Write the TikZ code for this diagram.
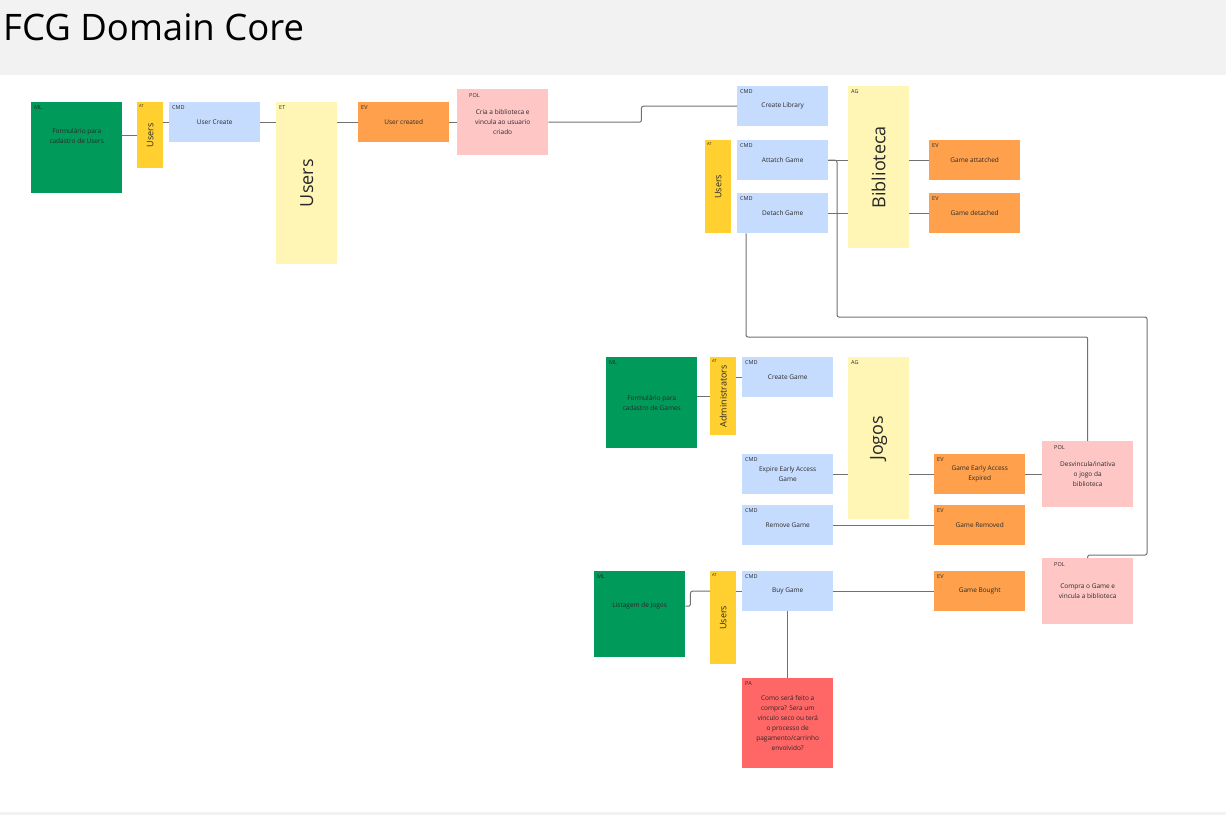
\documentclass[tikz,border=0pt]{standalone}
\usepackage{fontspec}
\setmainfont{Open Sans}
\usepackage{graphicx}
\definecolor{headgray}{RGB}{242,242,242}
\definecolor{ink}{RGB}{40,40,40}
\definecolor{linegray}{RGB}{112,112,112}
\definecolor{mlgreen}{RGB}{0,155,90}
\definecolor{atyellow}{RGB}{255,208,47}
\definecolor{cmdblue}{RGB}{198,220,255}
\definecolor{paleyellow}{RGB}{255,246,182}
\definecolor{evorange}{RGB}{255,161,76}
\definecolor{polpink}{RGB}{255,198,198}
\definecolor{pared}{RGB}{255,102,102}
\begin{document}
\begin{tikzpicture}[x=1pt, y=-1pt,
    sticky/.style={anchor=north west, inner sep=2pt, align=center, text=ink, font=\fontsize{6.5}{10}\selectfont},
    tag/.style={anchor=north west, inner sep=3pt, text=ink, font=\fontsize{5.5}{6}\selectfont},
    cmd/.style={sticky, fill=cmdblue, minimum width=91pt, minimum height=40pt, label={[tag]north west:CMD}},
    ev/.style={sticky, fill=evorange, minimum width=91pt, minimum height=40pt, label={[tag]north west:EV}},
    pol/.style={sticky, fill=polpink, minimum width=91pt, minimum height=66pt, label={[tag, inner sep=4pt, xshift=8pt]north west:POL}},
    ml/.style={sticky, fill=mlgreen, minimum width=91pt, label={[tag]north west:ML}},
    pa/.style={sticky, fill=pared, minimum width=91pt, minimum height=90pt, label={[tag]north west:PA}},
    actor/.style={sticky, fill=atyellow, minimum width=26pt, font=\fontsize{9}{10}\selectfont, label={[tag, inner sep=2pt, font=\fontsize{4}{5}\selectfont]north west:AT}},
    et/.style={sticky, fill=paleyellow, minimum width=61pt, minimum height=162pt, font=\fontsize{18}{20}\selectfont, label={[tag]north west:ET}},
    ag/.style={sticky, fill=paleyellow, minimum width=61pt, minimum height=162pt, font=\fontsize{18}{20}\selectfont, label={[tag]north west:AG}},
    link/.style={draw=linegray, line width=1pt}]
    \useasboundingbox (0,0) rectangle (1226,815);
    % 标题
    \fill[headgray] (0,0) rectangle (1226,75);
    \fill[headgray] (0,812) rectangle (1226,815);
    \node[anchor=base west, inner sep=0pt, font=\fontsize{36.5}{40}\selectfont] (title) at (3,40) {FCG Domain Core};
    % 用户
    \node[ml, minimum height=91pt, label={[sticky, anchor=center, yshift=12pt]center:{Formulário para\\cadastro de Users}}] (mlusers) at (31,102) {};
    \node[actor, minimum height=66pt] (atusers) at (137,102) {\rotatebox{90}{Users}};
    \node[cmd] (usercreate) at (169,102) {User Create};
    \node[et] (etusers) at (276,102) {\rotatebox{90}{Users}};
    \node[ev] (usercreated) at (358,102) {User created};
    \node[pol] (polbib) at (457,89) {Cria a biblioteca e\\vincula ao usuario\\criado};
    % 图书馆
    \node[cmd] (createlib) at (737,86) {Create Library};
    \node[ag] (biblioteca) at (848,86) {\rotatebox{90}{Biblioteca}};
    \node[actor, minimum height=93pt] (atusers2) at (705,140) {\rotatebox{90}{Users}};
    \node[cmd] (attach) at (737,140) {Attatch Game};
    \node[cmd] (detach) at (737,193) {Detach Game};
    \node[ev] (attached) at (929,140) {Game attatched};
    \node[ev] (detached) at (929,193) {Game detached};
    % 游戏
    \node[ml, minimum height=91pt] (mlgames) at (606,357) {Formulário para\\cadastro de Games};
    \node[actor, minimum height=78pt] (atadmin) at (710,357) {\rotatebox{90}{Administrators}};
    \node[cmd] (creategame) at (742,357) {Create Game};
    \node[ag] (jogos) at (848,357) {\rotatebox{90}{Jogos}};
    \node[cmd] (expire) at (742,454) {Expire Early Access\\Game};
    \node[cmd] (remove) at (742,505) {Remove Game};
    \node[ev] (expired) at (934,454) {Game Early Access\\Expired};
    \node[ev] (removed) at (934,505) {Game Removed};
    \node[pol] (poldesv) at (1042,441) {Desvincula/inativa\\o jogo da\\biblioteca};
    % 购买
    \node[ml, minimum height=86pt, label={[sticky, anchor=center, yshift=8pt]center:{Listagem de Jogos}}] (mllist) at (594,571) {};
    \node[actor, minimum height=93pt] (atusers3) at (710,571) {\rotatebox{90}{Users}};
    \node[cmd] (buy) at (742,571) {Buy Game};
    \node[ev] (bought) at (934,571) {Game Bought};
    \node[pol] (polbuy) at (1042,558) {Compra o Game e\\vincula a biblioteca};
    \node[pa] (pabuy) at (742,678) {Como será feito a\\compra? Sera um\\vinculo seco ou terá\\o processo de\\pagamento/carrinho\\envolvido?};
    % 连线
    \draw[link] (mlusers.east |- atusers.west) -- (atusers.west);
    \draw[link] (atusers.east |- usercreate.west) -- (usercreate.west);
    \draw[link] (usercreate.east) -- (usercreate.east -| etusers.west);
    \draw[link] (usercreated.west -| etusers.east) -- (usercreated.west);
    \draw[link] (usercreated.east) -- (polbib.west);
    \draw[link, rounded corners=2pt] (polbib.east) -- ++(93,0) |- (createlib.west);
    \draw[link] (attach.east) -- (attach.east -| biblioteca.west);
    \draw[link] (detach.east) -- (detach.east -| biblioteca.west);
    \draw[link] (attached.west -| biblioteca.east) -- (attached.west);
    \draw[link] (detached.west -| biblioteca.east) -- (detached.west);
    \coordinate (bendA) at (837,317);
    \coordinate (bendB) at (1147,555);
    \coordinate (bendC) at (746,337);
    \draw[link, rounded corners=2pt] (attach.east) -| (bendA) -| (bendB) -| (polbuy.north);
    \draw[link, rounded corners=2pt] (detach.south -| bendC) -- (bendC) -| (poldesv.north);
    \draw[link] (mlgames.east |- atadmin.west) -- (atadmin.west);
    \draw[link] (creategame.west -| atadmin.east) -- (creategame.west);
    \draw[link] (expire.east) -- (expire.east -| jogos.west);
    \draw[link] (expired.west -| jogos.east) -- (expired.west);
    \draw[link] (expired.east) -- (expired.east -| poldesv.west);
    \draw[link] (remove.east) -- (removed.west);
    \draw[link, rounded corners=2pt] ([yshift=8pt]mllist.east) -- ++(5,0) |- (buy.west -| atusers3.west);
    \draw[link] (buy.west -| atusers3.east) -- (buy.west);
    \draw[link] (buy.east) -- (bought.west);
    \draw[link] (buy.south) -- (pabuy.north);
\end{tikzpicture}
\end{document}
